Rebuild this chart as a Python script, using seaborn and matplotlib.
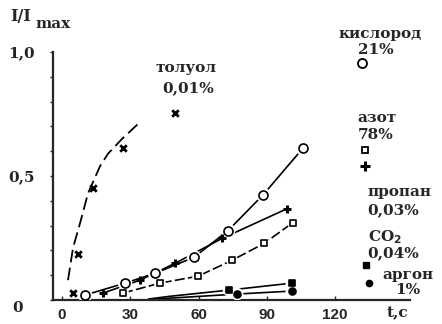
import matplotlib
matplotlib.use("Agg")
import matplotlib.pyplot as plt
import matplotlib.transforms as mtransforms
import seaborn as sns
import pandas as pd

# --- data ---
# toluene 0.01% (x marks + dashed guide curve)
tol_t = [4.8, 7.0, 13.6, 26.8, 49.7]
tol_y = [0.028, 0.184, 0.452, 0.612, 0.756]
tol_curve_t = [2.6, 4.8, 7.9, 11.4, 16.7, 20.2, 26.4, 33.4]
tol_curve_y = [0.08, 0.21, 0.31, 0.43, 0.54, 0.59, 0.65, 0.71]

# oxygen 21%
oxy_t = [10.1, 27.7, 40.9, 58.0, 73.0, 88.4, 105.9]
oxy_y = [0.02, 0.068, 0.108, 0.172, 0.28, 0.424, 0.612]

# propane 0.03%
prop_t = [18.0, 34.3, 49.7, 70.3, 98.9]
prop_y = [0.028, 0.08, 0.148, 0.248, 0.368]

# nitrogen 78%
nit_t = [26.8, 43.0, 59.8, 74.7, 88.8, 101.5]
nit_y = [0.028, 0.068, 0.096, 0.16, 0.228, 0.312]

# CO2 0.04%
co2_line_t = [38.0, 47.5, 73.4, 101.0]
co2_line_y = [0.004, 0.015, 0.04, 0.068]
co2_t = [73.4, 101.0]
co2_y = [0.04, 0.068]

# argon 1%
ar_line_t = [38.0, 48.4, 77.0, 101.0]
ar_line_y = [0.002, 0.008, 0.024, 0.036]
ar_t = [77.0, 101.0]
ar_y = [0.024, 0.036]

x_ticks = [0, 30, 60, 90, 120]
y_ticks = [0, 0.5, 1.0]
y_labels = ["0", "0,5", "1,0"]

sns.set_style("ticks")
plt.rcParams["font.family"] = ["DejaVu Serif"]
plt.rcParams["font.weight"] = "bold"

fig = plt.figure(figsize=(4.42, 3.24), dpi=100)
ax = fig.add_axes([53 / 442, 24 / 324, 357 / 442, 248 / 324])

K = "black"


def series(t, y, marker, ms, filled=False, mew=1.2, lt=None, ly=None, dashes=None):
    df = pd.DataFrame({"t": lt if lt is not None else t, "y": ly if ly is not None else y})
    sns.lineplot(data=df, x="t", y="y", ax=ax, color=K, lw=1.2, sort=False,
                 estimator=None, linestyle=(0, dashes) if dashes else "-")
    d = pd.DataFrame({"t": t, "y": y})
    # white halo so that the line breaks around each marker
    sns.scatterplot(data=d, x="t", y="y", ax=ax, marker="o", s=(ms + 4) ** 2,
                    color="white", edgecolor="none", zorder=3)
    sns.scatterplot(data=d, x="t", y="y", ax=ax, marker=marker, s=ms ** 2,
                    facecolor=K if filled else "white", edgecolor=K,
                    linewidth=mew, zorder=4)


# toluene guide curve (long dashes) and marks
dfc = pd.DataFrame({"t": tol_curve_t, "y": tol_curve_y})
sns.lineplot(data=dfc, x="t", y="y", ax=ax, color=K, lw=1.3, sort=False,
             estimator=None, linestyle=(0, (7, 3)))
sns.scatterplot(x=tol_t, y=tol_y, ax=ax, marker="x", s=22, color=K,
                linewidth=2.0, zorder=4)

series(ar_t, ar_y, "o", 5, filled=True, lt=ar_line_t, ly=ar_line_y)
series(co2_t, co2_y, "s", 5, filled=True, lt=co2_line_t, ly=co2_line_y)
series(nit_t, nit_y, "s", 4.5, dashes=(6, 2))
series(oxy_t, oxy_y, "o", 6.5)
sns.lineplot(x=prop_t, y=prop_y, ax=ax, color=K, lw=1.2, sort=False, estimator=None)
sns.scatterplot(x=prop_t, y=prop_y, ax=ax, marker="+", s=36, color=K,
                linewidth=2.2, zorder=4)

ax.set_xlim(-4, 153)
ax.set_ylim(0, 1.0)
ax.set_xlabel("")
ax.set_ylabel("")
sns.despine(ax=ax)
ax.spines["left"].set_linewidth(1.6)
ax.spines["bottom"].set_linewidth(1.6)

ax.set_xticks(x_ticks)
ax.set_xticklabels([str(v) for v in x_ticks], fontfamily="Liberation Sans",
                   fontweight="bold", fontsize=11)
ax.tick_params(axis="x", direction="in", length=3, width=1, pad=6)

ax.set_yticks(y_ticks)
ax.set_yticklabels(y_labels, fontfamily="DejaVu Serif", fontweight="bold", fontsize=11)
ax.set_yticks([i / 10 for i in range(11)], minor=True)
ax.tick_params(axis="y", which="major", direction="out", length=2, width=1, pad=30)
ax.tick_params(axis="y", which="minor", direction="out", length=2, width=1)
for lab in ax.get_yticklabels():
    lab.set_ha("left")
# the "0" label sits a little lower in the original
zero_lab = ax.get_yticklabels()[0]
zero_lab.set_transform(zero_lab.get_transform() +
                       mtransforms.ScaledTranslation(3 / 72, -5 / 72, fig.dpi_scale_trans))

# legend-like markers next to the labels
tr = ax.transAxes
ax.plot(0.866, 0.956, "o", ms=6.5, mfc="white", mec=K, mew=1.3, transform=tr, clip_on=False)
ax.plot(0.874, 0.605, "s", ms=4.5, mfc="white", mec=K, mew=1.3, transform=tr, clip_on=False)
ax.plot(0.874, 0.540, "+", ms=7, mew=2.2, color=K, transform=tr, clip_on=False)
ax.plot(0.877, 0.141, "s", ms=4.5, color=K, transform=tr, clip_on=False)
ax.plot(0.885, 0.069, "o", ms=4.5, color=K, transform=tr, clip_on=False)

lab_kw = dict(transform=tr, fontsize=11, fontweight="bold", va="center", clip_on=False)
ax.text(0.373, 0.935, "толуол", ha="center", **lab_kw)
ax.text(0.378, 0.855, "0,01%", ha="center", **lab_kw)
ax.text(0.916, 1.073, "кислород", ha="center", **lab_kw)
ax.text(0.905, 1.008, "21%", ha="center", **lab_kw)
ax.text(0.852, 0.734, "азот", ha="left", **lab_kw)
ax.text(0.854, 0.665, "78%", ha="left", **lab_kw)
ax.text(0.880, 0.435, "пропан", ha="left", **lab_kw)
ax.text(0.880, 0.363, "0,03%", ha="left", **lab_kw)
ax.text(0.882, 0.254, "CO$_2$", ha="left", **lab_kw)
ax.text(0.880, 0.190, "0,04%", ha="left", **lab_kw)
ax.text(0.924, 0.100, "аргон", ha="left", **lab_kw)
ax.text(0.958, 0.040, "1%", ha="left", **lab_kw)
ax.text(0.964, -0.052, "t,c", ha="center", **lab_kw)

fig.text(0.023, 0.948, "I/I", fontsize=11.5, fontweight="bold", va="center")
fig.text(0.080, 0.926, "max", fontsize=11, fontweight="bold", va="center")

fig.savefig("out.png", dpi=100)
